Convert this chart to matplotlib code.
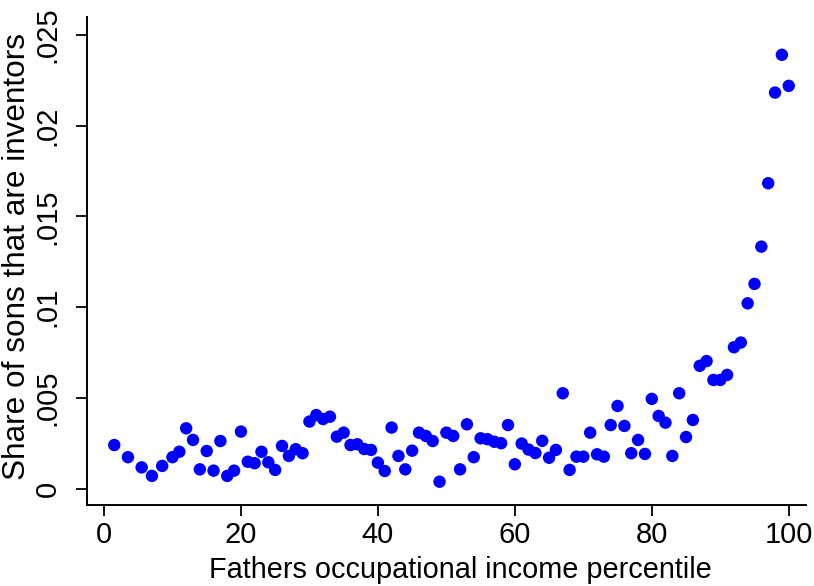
import matplotlib
matplotlib.use("Agg")
import matplotlib.pyplot as plt

# Fathers' occupational income percentile
percentile = [1.5, 3.5, 5.5, 7, 8.5] + list(range(10, 101))
# Share of sons that are inventors (x 0.001)
share_permille = [
    2.42, 1.75, 1.19, 0.72, 1.27,
    1.75, 2.05, 3.34, 2.70, 1.08, 2.09, 1.01, 2.64, 0.72, 1.01,
    3.16, 1.50, 1.42, 2.05, 1.47, 1.05, 2.37, 1.82, 2.19, 1.97,
    3.71, 4.07, 3.85, 3.98, 2.88, 3.10, 2.42, 2.46, 2.20, 2.15,
    1.45, 0.99, 3.38, 1.82, 1.08, 2.11, 3.10, 2.92, 2.64, 0.40,
    3.10, 2.92, 1.08, 3.56, 1.75, 2.79, 2.74, 2.60, 2.52, 3.52,
    1.36, 2.50, 2.17, 1.98, 2.65, 1.72, 2.15, 5.27, 1.05, 1.78,
    1.78, 3.10, 1.91, 1.78, 3.52, 4.57, 3.47, 1.97, 2.70, 1.93,
    4.96, 4.02, 3.65, 1.82, 5.27, 2.86, 3.80, 6.78, 7.04, 6.00,
    6.00, 6.28, 7.80, 8.06, 10.22, 11.29, 13.34, 16.83, 21.82, 23.90,
    22.19,
]
share = [v / 1000 for v in share_permille]

xticks = [0, 20, 40, 60, 80, 100]
yticks = [0, 0.005, 0.01, 0.015, 0.02, 0.025]
yticklabels = ["0", ".005", ".01", ".015", ".02", ".025"]

regular = ["Liberation Sans", "DejaVu Sans"]

fig = plt.figure(figsize=(8.14, 5.86), dpi=100)
ax = fig.add_axes([0.1063, 0.1374, 0.990 - 0.1063, 0.971 - 0.1374])

ax.scatter(percentile, share, s=80, color="#0000FF", edgecolors="none", zorder=3)

ax.set_xlim(-2.55, 102.5)
ax.set_ylim(-0.000908, 0.02598)

for side in ("top", "right"):
    ax.spines[side].set_visible(False)
for side in ("left", "bottom"):
    ax.spines[side].set_linewidth(1.4)

ax.set_xticks(xticks)
ax.set_xticklabels([str(t) for t in xticks], family=regular, fontsize=21)
ax.set_yticks(yticks)
ax.set_yticklabels(yticklabels, family=regular, fontsize=21, rotation=90, va="center")

ax.tick_params(axis="both", direction="out", length=8, width=1.3, color="black")
ax.tick_params(axis="x", pad=3)
ax.tick_params(axis="y", pad=10)

ax.set_xlabel("Fathers occupational income percentile", family=regular, fontsize=20.8, labelpad=5)
ax.set_ylabel("Share of sons that are inventors", family=regular, fontsize=22.7, labelpad=1)
ax.xaxis.label.set_x(0.52)
ax.yaxis.label.set_y(0.51)

fig.savefig("out.png", dpi=100, facecolor="white")
